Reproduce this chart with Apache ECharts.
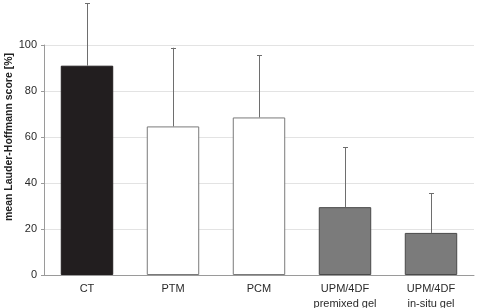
<!DOCTYPE html>
<html><head><meta charset="utf-8">
<script src="https://cdn.jsdelivr.net/npm/echarts@6/dist/echarts.min.js"></script>
<style>html,body{margin:0;padding:0;background:#fff}#c{width:477px;height:308px}</style>
</head><body><div id="c"></div>
<script>
var categories = ['CT', 'PTM', 'PCM', 'UPM/4DF\npremixed gel', 'UPM/4DF\nin-situ gel'];
var means = [91, 64.6, 68.5, 29.5, 18.3];
var sds = [27.2, 34.2, 27, 26.1, 17.3];
var yTicks = [0, 20, 40, 60, 80, 100];

var fills = ['#221e1f', '#ffffff', '#ffffff', '#7b7b7b', '#7b7b7b'];
var borders = ['#221e1f', '#7a7a7a', '#7a7a7a', '#4a4a4a', '#4a4a4a'];

var chart = echarts.init(document.getElementById('c'), null, {renderer: 'canvas'});
var barData = means.map(function (v, i) {
  return {value: v, itemStyle: {color: fills[i], borderColor: borders[i], borderWidth: 1}};
});
var errData = means.map(function (v, i) { return [i, v, v + sds[i]]; });

chart.setOption({
  animation: false,
  grid: {left: 44, right: 3, top: 45, bottom: 33, outerBoundsMode: 'none', containLabel: false},
  xAxis: {
    type: 'category', data: categories,
    axisLine: {lineStyle: {color: '#9a9a9a', width: 1}},
    axisTick: {show: false},
    axisLabel: {color: '#2a2a2a', fontFamily: 'Liberation Sans, Arial', fontSize: 11, lineHeight: 14.5, margin: 7, interval: 0}
  },
  yAxis: {
    type: 'value', min: yTicks[0], max: yTicks[yTicks.length - 1], interval: 20,
    axisLine: {show: true, lineStyle: {color: '#9a9a9a', width: 1}},
    axisTick: {show: true, length: 3, lineStyle: {color: '#9a9a9a'}},
    splitLine: {lineStyle: {color: '#e3e3e3', width: 1}},
    axisLabel: {color: '#2a2a2a', fontFamily: 'Liberation Sans, Arial', fontSize: 11, margin: 7}
  },
  graphic: [{
    type: 'text', x: 9, y: 137, rotation: Math.PI / 2,
    style: {text: 'mean Lauder-Hoffmann score [%]', fill: '#222', font: 'bold 10.5px "Liberation Sans", Arial',
      textAlign: 'center', textVerticalAlign: 'middle'}
  }],
  series: [{
    type: 'bar', data: barData, barWidth: '61%'
  }, {
    type: 'custom', data: errData, clip: false, z: 5,
    renderItem: function (params, api) {
      var x = api.value(0);
      var p0 = api.coord([x, api.value(1)]);
      var p1 = api.coord([x, api.value(2)]);
      var st = {stroke: '#6e6e6e', lineWidth: 1};
      return {type: 'group', children: [
        {type: 'line', shape: {x1: Math.round(p0[0]) + 0.5, y1: p0[1], x2: Math.round(p0[0]) + 0.5, y2: p1[1]}, style: st},
        {type: 'line', shape: {x1: Math.round(p0[0]) - 2, y1: Math.round(p1[1]) + 0.5, x2: Math.round(p0[0]) + 3, y2: Math.round(p1[1]) + 0.5}, style: st}
      ]};
    }
  }]
});
</script></body></html>
